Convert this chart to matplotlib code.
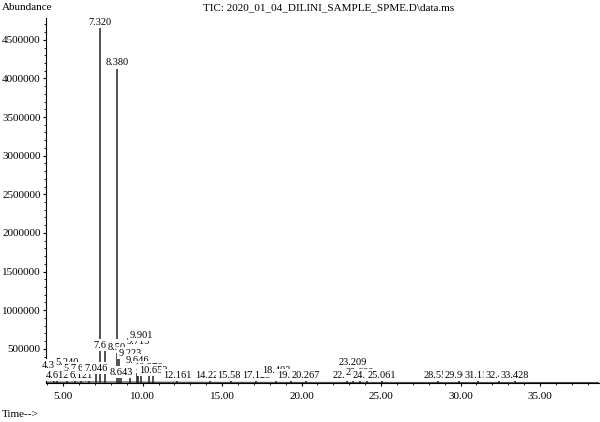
import matplotlib
matplotlib.use("Agg")
import matplotlib.pyplot as plt
from matplotlib.ticker import MultipleLocator, FormatStrFormatter

# --- data ---
peak_rt = [4.396, 4.612, 5.240, 5.744, 6.121, 6.627, 7.046, 7.320, 7.612,
           8.380, 8.506, 8.643, 9.223, 9.646, 9.715, 9.901, 10.376, 10.652,
           12.161, 14.229, 15.580, 17.128, 18.402, 19.347, 20.267, 22.868,
           23.209, 23.688, 24.113, 25.061, 28.553, 29.906, 31.114, 32.447,
           33.428]
peak_height = [210000, 80000, 250000, 170000, 80000, 170000, 170000, 4650000,
               470000, 4130000, 444000, 120000, 366000, 275000, 520000, 600000,
               185000, 145000, 80000, 80000, 80000, 80000, 140000, 80000,
               80000, 80000, 250000, 120000, 80000, 80000, 80000, 80000,
               80000, 80000, 80000]
peak_label = ["%.3f" % t for t in peak_rt]

base_rt = [3.9, 5.0, 7.0, 9.0, 11.0, 14.0, 20.0, 30.0, 38.7]
base_val = [68000, 66000, 70000, 69000, 66000, 64000, 63000, 62000, 62000]

font = "Liberation Serif"
plt.rcParams["font.family"] = [font, "DejaVu Serif"]

fig = plt.figure(figsize=(6.0, 4.22), dpi=100)
ax = fig.add_axes([0.077, 0.092, 0.921, 0.865])

ax.plot(base_rt, base_val, color="#555555", lw=1.0, zorder=2)
ax.vlines(peak_rt, 55000, peak_height, color="#222222", lw=1.1, zorder=2)

# peak labels with white boxes, later ones hide earlier ones (as in the original)
for t, h, s in zip(peak_rt, peak_height, peak_label):
    ax.annotate(s, (t, h), xytext=(0, 1), textcoords="offset points",
                ha="center", va="bottom", fontsize=7.5, zorder=3,
                bbox=dict(boxstyle="square,pad=0.15", fc="white", ec="none"))

ax.set_xlim(3.93, 38.7)
ax.set_ylim(55000, 4780000)

ax.xaxis.set_major_locator(MultipleLocator(5))
ax.xaxis.set_minor_locator(MultipleLocator(1))
ax.xaxis.set_major_formatter(FormatStrFormatter("%.2f"))
ax.yaxis.set_major_locator(MultipleLocator(500000))
ax.yaxis.set_minor_locator(MultipleLocator(100000))
ax.yaxis.set_major_formatter(FormatStrFormatter("%d"))

ax.tick_params(which="major", length=2.5, width=0.8, labelsize=8, pad=1.5)
ax.tick_params(axis="x", which="major", pad=4)
ax.tick_params(which="minor", length=1.5, width=0.6)
for side in ["top", "right"]:
    ax.spines[side].set_visible(False)
ax.spines["left"].set_linewidth(0.8)
ax.spines["bottom"].set_linewidth(0.8)

fig.text(0.003, 0.982, "Abundance", fontsize=8, ha="left", va="center")
fig.text(0.338, 0.982, "TIC: 2020_01_04_DILINI_SAMPLE_SPME.D\\data.ms",
         fontsize=8, ha="left", va="center")
fig.text(0.003, 0.018, "Time-->", fontsize=8, ha="left", va="center")

fig.savefig("out.png", dpi=100)
